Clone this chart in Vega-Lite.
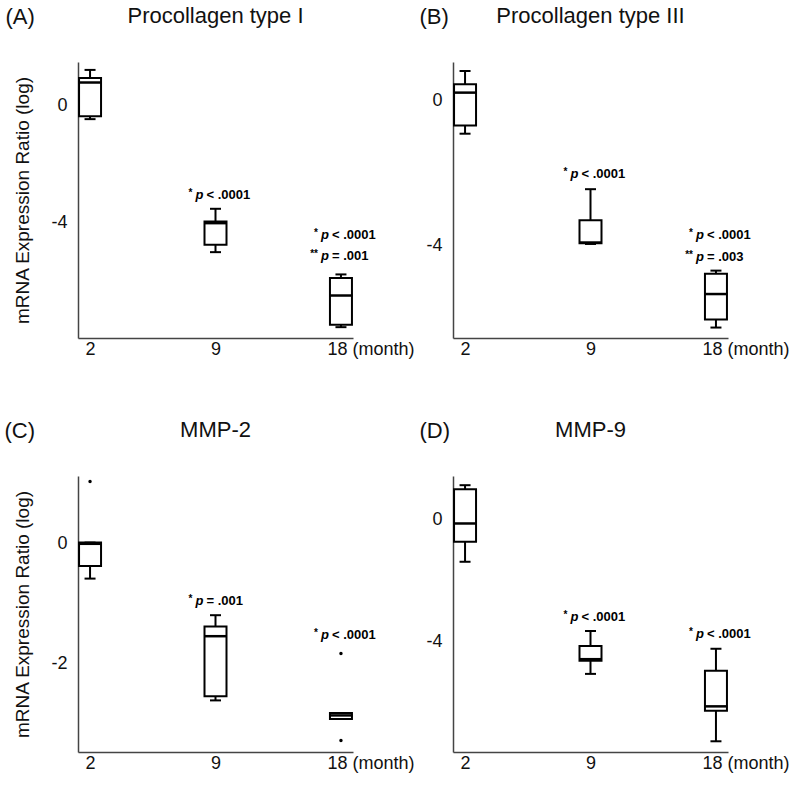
{
  "$schema": "https://vega.github.io/schema/vega-lite/v6.json",
  "background": "white",
  "padding": {"left": 4, "top": 5, "right": 5, "bottom": 5},
  "datasets": {
    "box": [
      {"panel": "A", "month": "2", "lo": -0.48, "q1": -0.38, "med": 0.77, "q3": 0.92, "hi": 1.2},
      {"panel": "A", "month": "9", "lo": -5.02, "q1": -4.77, "med": -4.03, "q3": -3.97, "hi": -3.54},
      {"panel": "A", "month": "18", "lo": -7.58, "q1": -7.5, "med": -6.5, "q3": -5.9, "hi": -5.78},
      {"panel": "B", "month": "2", "lo": -0.91, "q1": -0.68, "med": 0.23, "q3": 0.46, "hi": 0.83},
      {"panel": "B", "month": "9", "lo": -3.97, "q1": -3.95, "med": -3.93, "q3": -3.31, "hi": -2.45},
      {"panel": "B", "month": "18", "lo": -6.29, "q1": -6.07, "med": -5.36, "q3": -4.8, "hi": -4.71},
      {"panel": "C", "month": "2", "lo": -0.58, "q1": -0.37, "med": 0.0, "q3": 0.02, "hi": 0.02},
      {"panel": "C", "month": "9", "lo": -2.61, "q1": -2.54, "med": -1.54, "q3": -1.38, "hi": -1.19},
      {"panel": "C", "month": "18", "lo": -2.92, "q1": -2.92, "med": -2.86, "q3": -2.82, "hi": -2.82},
      {"panel": "D", "month": "2", "lo": -1.39, "q1": -0.74, "med": -0.14, "q3": 0.98, "hi": 1.11},
      {"panel": "D", "month": "9", "lo": -5.05, "q1": -4.62, "med": -4.57, "q3": -4.14, "hi": -3.65},
      {"panel": "D", "month": "18", "lo": -7.25, "q1": -6.25, "med": -6.11, "q3": -4.95, "hi": -4.23}
    ],
    "out": [
      {"panel": "C", "month": "2", "v": 1.04},
      {"panel": "C", "month": "18", "v": -1.83},
      {"panel": "C", "month": "18", "v": -3.28}
    ],
    "note": [
      {"panel": "A", "month": "9", "y": -3.07, "star": "*", "rest": "< .0001"},
      {"panel": "A", "month": "18", "y": -4.43, "star": "*", "rest": "< .0001"},
      {"panel": "A", "month": "18", "y": -5.15, "star": "**", "rest": "= .001"},
      {"panel": "B", "month": "9", "y": -2.04, "star": "*", "rest": "< .0001"},
      {"panel": "B", "month": "18", "y": -3.73, "star": "*", "rest": "< .0001"},
      {"panel": "B", "month": "18", "y": -4.34, "star": "**", "rest": "= .003"},
      {"panel": "C", "month": "9", "y": -0.955, "star": "*", "rest": "= .001"},
      {"panel": "C", "month": "18", "y": -1.52, "star": "*", "rest": "< .0001"},
      {"panel": "D", "month": "9", "y": -3.2, "star": "*", "rest": "< .0001"},
      {"panel": "D", "month": "18", "y": -3.76, "star": "*", "rest": "< .0001"}
    ]
  },
  "columns": 2,
  "spacing": {"row": 138, "column": 100},
  "bounds": "flush",
  "concat": [
    {
      "width": 275, "height": 276,
      "title": {"text": "Procollagen type I", "frame": "group", "anchor": "middle", "baseline": "alphabetic", "offset": -40},
      "resolve": {"axis": {"x": "independent"}},
      "layer": [
        {"data": {"name": "box"}, "transform": [{"filter": "datum.panel == 'A'"}],
         "mark": {"type": "rule", "color": "black", "strokeWidth": 2},
         "encoding": {
           "x": {"field": "month", "type": "ordinal", "scale": {"type": "point", "domain": ["2", "9", "18"], "padding": 0.096},
                 "axis": {"title": null, "labelAngle": 0, "labelExpr": "datum.value == '18' ? '18 (month)' : datum.label",
                          "labelAlign": {"condition": {"test": "datum.value == '18'", "value": "left"}, "value": "center"},
                          "labelOffset": {"condition": {"test": "datum.value == '18'", "value": -14}, "value": 0}}},
           "y": {"field": "lo", "type": "quantitative", "scale": {"domain": [-7.95, 1.47], "nice": false, "zero": false},
                 "axis": {"title": "mRNA Expression Ratio (log)", "values": [0, -4], "labelExpr": "'' + datum.value"}},
           "y2": {"field": "q1"}}},
        {"data": {"name": "box"}, "transform": [{"filter": "datum.panel == 'A'"}],
         "mark": {"type": "rule", "color": "black", "strokeWidth": 2},
         "encoding": {
           "x": {"field": "month", "type": "ordinal",
                 "axis": {"orient": "top", "title": "(A)", "labels": false, "domain": false, "ticks": false, "titleX": -73, "titleY": -39, "titleAlign": "left", "titleBaseline": "alphabetic", "titleAngle": 0, "titleFontSize": 22, "titleFontWeight": "normal"}},
           "y": {"field": "q3", "type": "quantitative"}, "y2": {"field": "hi"}}},
        {"data": {"name": "box"}, "transform": [{"filter": "datum.panel == 'A'"}],
         "mark": {"type": "tick", "orient": "horizontal", "color": "black", "opacity": 1, "size": 11, "thickness": 2},
         "encoding": {"x": {"field": "month", "type": "ordinal", "axis": null}, "y": {"field": "lo", "type": "quantitative"}}},
        {"data": {"name": "box"}, "transform": [{"filter": "datum.panel == 'A'"}],
         "mark": {"type": "tick", "orient": "horizontal", "color": "black", "opacity": 1, "size": 11, "thickness": 2},
         "encoding": {"x": {"field": "month", "type": "ordinal", "axis": null}, "y": {"field": "hi", "type": "quantitative"}}},
        {"data": {"name": "box"}, "transform": [{"filter": "datum.panel == 'A'"}],
         "mark": {"type": "bar", "width": 22, "fill": "white", "stroke": "black", "strokeWidth": 2},
         "encoding": {"x": {"field": "month", "type": "ordinal", "axis": null}, "y": {"field": "q1", "type": "quantitative"}, "y2": {"field": "q3"}}},
        {"data": {"name": "box"}, "transform": [{"filter": "datum.panel == 'A'"}],
         "mark": {"type": "tick", "orient": "horizontal", "color": "black", "opacity": 1, "size": 23, "thickness": 2.5},
         "encoding": {"x": {"field": "month", "type": "ordinal", "axis": null}, "y": {"field": "med", "type": "quantitative"}}},
        {"data": {"name": "note"}, "transform": [{"filter": "datum.panel == 'A'"}],
         "mark": {"type": "text", "align": "right", "baseline": "middle", "dx": -23, "dy": -2, "fontSize": 10, "fontWeight": "bold", "color": "black"},
         "encoding": {"x": {"field": "month", "type": "ordinal", "axis": null}, "y": {"field": "y", "type": "quantitative"}, "text": {"field": "star"}}},
        {"data": {"name": "note"}, "transform": [{"filter": "datum.panel == 'A'"}],
         "mark": {"type": "text", "align": "center", "baseline": "middle", "dx": -16, "fontSize": 13, "fontWeight": "bold", "fontStyle": "italic", "color": "black", "text": "p"},
         "encoding": {"x": {"field": "month", "type": "ordinal", "axis": null}, "y": {"field": "y", "type": "quantitative"}}},
        {"data": {"name": "note"}, "transform": [{"filter": "datum.panel == 'A'"}],
         "mark": {"type": "text", "align": "left", "baseline": "middle", "dx": -9, "fontSize": 13, "fontWeight": "bold", "color": "black"},
         "encoding": {"x": {"field": "month", "type": "ordinal", "axis": null}, "y": {"field": "y", "type": "quantitative"}, "text": {"field": "rest"}}}
      ]
    },
    {
      "width": 275, "height": 276,
      "title": {"text": "Procollagen type III", "frame": "group", "anchor": "middle", "baseline": "alphabetic", "offset": -40},
      "resolve": {"axis": {"x": "independent"}},
      "layer": [
        {"data": {"name": "box"}, "transform": [{"filter": "datum.panel == 'B'"}],
         "mark": {"type": "rule", "color": "black", "strokeWidth": 2},
         "encoding": {
           "x": {"field": "month", "type": "ordinal", "scale": {"type": "point", "domain": ["2", "9", "18"], "padding": 0.096},
                 "axis": {"title": null, "labelAngle": 0, "labelExpr": "datum.value == '18' ? '18 (month)' : datum.label",
                          "labelAlign": {"condition": {"test": "datum.value == '18'", "value": "left"}, "value": "center"},
                          "labelOffset": {"condition": {"test": "datum.value == '18'", "value": -14}, "value": 0}}},
           "y": {"field": "lo", "type": "quantitative", "scale": {"domain": [-6.58, 1.08], "nice": false, "zero": false},
                 "axis": {"title": null, "values": [0, -4], "labelExpr": "'' + datum.value"}},
           "y2": {"field": "q1"}}},
        {"data": {"name": "box"}, "transform": [{"filter": "datum.panel == 'B'"}],
         "mark": {"type": "rule", "color": "black", "strokeWidth": 2},
         "encoding": {
           "x": {"field": "month", "type": "ordinal",
                 "axis": {"orient": "top", "title": "(B)", "labels": false, "domain": false, "ticks": false, "titleX": -34, "titleY": -39, "titleAlign": "left", "titleBaseline": "alphabetic", "titleAngle": 0, "titleFontSize": 22, "titleFontWeight": "normal"}},
           "y": {"field": "q3", "type": "quantitative"}, "y2": {"field": "hi"}}},
        {"data": {"name": "box"}, "transform": [{"filter": "datum.panel == 'B'"}],
         "mark": {"type": "tick", "orient": "horizontal", "color": "black", "opacity": 1, "size": 11, "thickness": 2},
         "encoding": {"x": {"field": "month", "type": "ordinal", "axis": null}, "y": {"field": "lo", "type": "quantitative"}}},
        {"data": {"name": "box"}, "transform": [{"filter": "datum.panel == 'B'"}],
         "mark": {"type": "tick", "orient": "horizontal", "color": "black", "opacity": 1, "size": 11, "thickness": 2},
         "encoding": {"x": {"field": "month", "type": "ordinal", "axis": null}, "y": {"field": "hi", "type": "quantitative"}}},
        {"data": {"name": "box"}, "transform": [{"filter": "datum.panel == 'B'"}],
         "mark": {"type": "bar", "width": 22, "fill": "white", "stroke": "black", "strokeWidth": 2},
         "encoding": {"x": {"field": "month", "type": "ordinal", "axis": null}, "y": {"field": "q1", "type": "quantitative"}, "y2": {"field": "q3"}}},
        {"data": {"name": "box"}, "transform": [{"filter": "datum.panel == 'B'"}],
         "mark": {"type": "tick", "orient": "horizontal", "color": "black", "opacity": 1, "size": 23, "thickness": 2.5},
         "encoding": {"x": {"field": "month", "type": "ordinal", "axis": null}, "y": {"field": "med", "type": "quantitative"}}},
        {"data": {"name": "note"}, "transform": [{"filter": "datum.panel == 'B'"}],
         "mark": {"type": "text", "align": "right", "baseline": "middle", "dx": -23, "dy": -2, "fontSize": 10, "fontWeight": "bold", "color": "black"},
         "encoding": {"x": {"field": "month", "type": "ordinal", "axis": null}, "y": {"field": "y", "type": "quantitative"}, "text": {"field": "star"}}},
        {"data": {"name": "note"}, "transform": [{"filter": "datum.panel == 'B'"}],
         "mark": {"type": "text", "align": "center", "baseline": "middle", "dx": -16, "fontSize": 13, "fontWeight": "bold", "fontStyle": "italic", "color": "black", "text": "p"},
         "encoding": {"x": {"field": "month", "type": "ordinal", "axis": null}, "y": {"field": "y", "type": "quantitative"}}},
        {"data": {"name": "note"}, "transform": [{"filter": "datum.panel == 'B'"}],
         "mark": {"type": "text", "align": "left", "baseline": "middle", "dx": -9, "fontSize": 13, "fontWeight": "bold", "color": "black"},
         "encoding": {"x": {"field": "month", "type": "ordinal", "axis": null}, "y": {"field": "y", "type": "quantitative"}, "text": {"field": "rest"}}}
      ]
    },
    {
      "width": 275, "height": 276,
      "title": {"text": "MMP-2", "frame": "group", "anchor": "middle", "baseline": "alphabetic", "offset": -40},
      "resolve": {"axis": {"x": "independent"}},
      "layer": [
        {"data": {"name": "box"}, "transform": [{"filter": "datum.panel == 'C'"}],
         "mark": {"type": "rule", "color": "black", "strokeWidth": 2},
         "encoding": {
           "x": {"field": "month", "type": "ordinal", "scale": {"type": "point", "domain": ["2", "9", "18"], "padding": 0.096},
                 "axis": {"title": null, "labelAngle": 0, "labelExpr": "datum.value == '18' ? '18 (month)' : datum.label",
                          "labelAlign": {"condition": {"test": "datum.value == '18'", "value": "left"}, "value": "center"},
                          "labelOffset": {"condition": {"test": "datum.value == '18'", "value": -14}, "value": 0}}},
           "y": {"field": "lo", "type": "quantitative", "scale": {"domain": [-3.47, 1.13], "nice": false, "zero": false},
                 "axis": {"title": "mRNA Expression Ratio (log)", "values": [0, -2], "labelExpr": "'' + datum.value"}},
           "y2": {"field": "q1"}}},
        {"data": {"name": "box"}, "transform": [{"filter": "datum.panel == 'C'"}],
         "mark": {"type": "rule", "color": "black", "strokeWidth": 2},
         "encoding": {
           "x": {"field": "month", "type": "ordinal",
                 "axis": {"orient": "top", "title": "(C)", "labels": false, "domain": false, "ticks": false, "titleX": -74, "titleY": -39, "titleAlign": "left", "titleBaseline": "alphabetic", "titleAngle": 0, "titleFontSize": 22, "titleFontWeight": "normal"}},
           "y": {"field": "q3", "type": "quantitative"}, "y2": {"field": "hi"}}},
        {"data": {"name": "box"}, "transform": [{"filter": "datum.panel == 'C'"}],
         "mark": {"type": "tick", "orient": "horizontal", "color": "black", "opacity": 1, "size": 11, "thickness": 2},
         "encoding": {"x": {"field": "month", "type": "ordinal", "axis": null}, "y": {"field": "lo", "type": "quantitative"}}},
        {"data": {"name": "box"}, "transform": [{"filter": "datum.panel == 'C'"}],
         "mark": {"type": "tick", "orient": "horizontal", "color": "black", "opacity": 1, "size": 11, "thickness": 2},
         "encoding": {"x": {"field": "month", "type": "ordinal", "axis": null}, "y": {"field": "hi", "type": "quantitative"}}},
        {"data": {"name": "box"}, "transform": [{"filter": "datum.panel == 'C'"}],
         "mark": {"type": "bar", "width": 22, "fill": "white", "stroke": "black", "strokeWidth": 2},
         "encoding": {"x": {"field": "month", "type": "ordinal", "axis": null}, "y": {"field": "q1", "type": "quantitative"}, "y2": {"field": "q3"}}},
        {"data": {"name": "box"}, "transform": [{"filter": "datum.panel == 'C'"}],
         "mark": {"type": "tick", "orient": "horizontal", "color": "black", "opacity": 1, "size": 23, "thickness": 2.5},
         "encoding": {"x": {"field": "month", "type": "ordinal", "axis": null}, "y": {"field": "med", "type": "quantitative"}}},
        {"data": {"name": "out"}, "transform": [{"filter": "datum.panel == 'C'"}],
         "mark": {"type": "point", "filled": true, "color": "black", "size": 12, "opacity": 1},
         "encoding": {"x": {"field": "month", "type": "ordinal", "axis": null}, "y": {"field": "v", "type": "quantitative"}}},
        {"data": {"name": "note"}, "transform": [{"filter": "datum.panel == 'C'"}],
         "mark": {"type": "text", "align": "right", "baseline": "middle", "dx": -23, "dy": -2, "fontSize": 10, "fontWeight": "bold", "color": "black"},
         "encoding": {"x": {"field": "month", "type": "ordinal", "axis": null}, "y": {"field": "y", "type": "quantitative"}, "text": {"field": "star"}}},
        {"data": {"name": "note"}, "transform": [{"filter": "datum.panel == 'C'"}],
         "mark": {"type": "text", "align": "center", "baseline": "middle", "dx": -16, "fontSize": 13, "fontWeight": "bold", "fontStyle": "italic", "color": "black", "text": "p"},
         "encoding": {"x": {"field": "month", "type": "ordinal", "axis": null}, "y": {"field": "y", "type": "quantitative"}}},
        {"data": {"name": "note"}, "transform": [{"filter": "datum.panel == 'C'"}],
         "mark": {"type": "text", "align": "left", "baseline": "middle", "dx": -9, "fontSize": 13, "fontWeight": "bold", "color": "black"},
         "encoding": {"x": {"field": "month", "type": "ordinal", "axis": null}, "y": {"field": "y", "type": "quantitative"}, "text": {"field": "rest"}}}
      ]
    },
    {
      "width": 275, "height": 276,
      "title": {"text": "MMP-9", "frame": "group", "anchor": "middle", "baseline": "alphabetic", "offset": -40},
      "resolve": {"axis": {"x": "independent"}},
      "layer": [
        {"data": {"name": "box"}, "transform": [{"filter": "datum.panel == 'D'"}],
         "mark": {"type": "rule", "color": "black", "strokeWidth": 2},
         "encoding": {
           "x": {"field": "month", "type": "ordinal", "scale": {"type": "point", "domain": ["2", "9", "18"], "padding": 0.096},
                 "axis": {"title": null, "labelAngle": 0, "labelExpr": "datum.value == '18' ? '18 (month)' : datum.label",
                          "labelAlign": {"condition": {"test": "datum.value == '18'", "value": "left"}, "value": "center"},
                          "labelOffset": {"condition": {"test": "datum.value == '18'", "value": -14}, "value": 0}}},
           "y": {"field": "lo", "type": "quantitative", "scale": {"domain": [-7.6, 1.41], "nice": false, "zero": false},
                 "axis": {"title": null, "values": [0, -4], "labelExpr": "'' + datum.value"}},
           "y2": {"field": "q1"}}},
        {"data": {"name": "box"}, "transform": [{"filter": "datum.panel == 'D'"}],
         "mark": {"type": "rule", "color": "black", "strokeWidth": 2},
         "encoding": {
           "x": {"field": "month", "type": "ordinal",
                 "axis": {"orient": "top", "title": "(D)", "labels": false, "domain": false, "ticks": false, "titleX": -34, "titleY": -39, "titleAlign": "left", "titleBaseline": "alphabetic", "titleAngle": 0, "titleFontSize": 22, "titleFontWeight": "normal"}},
           "y": {"field": "q3", "type": "quantitative"}, "y2": {"field": "hi"}}},
        {"data": {"name": "box"}, "transform": [{"filter": "datum.panel == 'D'"}],
         "mark": {"type": "tick", "orient": "horizontal", "color": "black", "opacity": 1, "size": 11, "thickness": 2},
         "encoding": {"x": {"field": "month", "type": "ordinal", "axis": null}, "y": {"field": "lo", "type": "quantitative"}}},
        {"data": {"name": "box"}, "transform": [{"filter": "datum.panel == 'D'"}],
         "mark": {"type": "tick", "orient": "horizontal", "color": "black", "opacity": 1, "size": 11, "thickness": 2},
         "encoding": {"x": {"field": "month", "type": "ordinal", "axis": null}, "y": {"field": "hi", "type": "quantitative"}}},
        {"data": {"name": "box"}, "transform": [{"filter": "datum.panel == 'D'"}],
         "mark": {"type": "bar", "width": 22, "fill": "white", "stroke": "black", "strokeWidth": 2},
         "encoding": {"x": {"field": "month", "type": "ordinal", "axis": null}, "y": {"field": "q1", "type": "quantitative"}, "y2": {"field": "q3"}}},
        {"data": {"name": "box"}, "transform": [{"filter": "datum.panel == 'D'"}],
         "mark": {"type": "tick", "orient": "horizontal", "color": "black", "opacity": 1, "size": 23, "thickness": 2.5},
         "encoding": {"x": {"field": "month", "type": "ordinal", "axis": null}, "y": {"field": "med", "type": "quantitative"}}},
        {"data": {"name": "note"}, "transform": [{"filter": "datum.panel == 'D'"}],
         "mark": {"type": "text", "align": "right", "baseline": "middle", "dx": -23, "dy": -2, "fontSize": 10, "fontWeight": "bold", "color": "black"},
         "encoding": {"x": {"field": "month", "type": "ordinal", "axis": null}, "y": {"field": "y", "type": "quantitative"}, "text": {"field": "star"}}},
        {"data": {"name": "note"}, "transform": [{"filter": "datum.panel == 'D'"}],
         "mark": {"type": "text", "align": "center", "baseline": "middle", "dx": -16, "fontSize": 13, "fontWeight": "bold", "fontStyle": "italic", "color": "black", "text": "p"},
         "encoding": {"x": {"field": "month", "type": "ordinal", "axis": null}, "y": {"field": "y", "type": "quantitative"}}},
        {"data": {"name": "note"}, "transform": [{"filter": "datum.panel == 'D'"}],
         "mark": {"type": "text", "align": "left", "baseline": "middle", "dx": -9, "fontSize": 13, "fontWeight": "bold", "color": "black"},
         "encoding": {"x": {"field": "month", "type": "ordinal", "axis": null}, "y": {"field": "y", "type": "quantitative"}, "text": {"field": "rest"}}}
      ]
    }
  ],
  "config": {
    "font": "Liberation Sans",
    "view": {"stroke": null},
    "axis": {"domainColor": "#444", "domainWidth": 1.5, "ticks": false, "grid": false, "labelFont": "Liberation Sans", "labelFontSize": 18, "labelColor": "#111", "titleFont": "Liberation Sans", "titleFontSize": 19, "titleFontWeight": "normal", "titleColor": "#111"},
    "axisY": {"labelPadding": 11, "titlePadding": 18},
    "axisX": {"labelPadding": 2},
    "title": {"font": "Liberation Sans", "fontSize": 22, "fontWeight": "normal", "color": "#111"}
  }
}
